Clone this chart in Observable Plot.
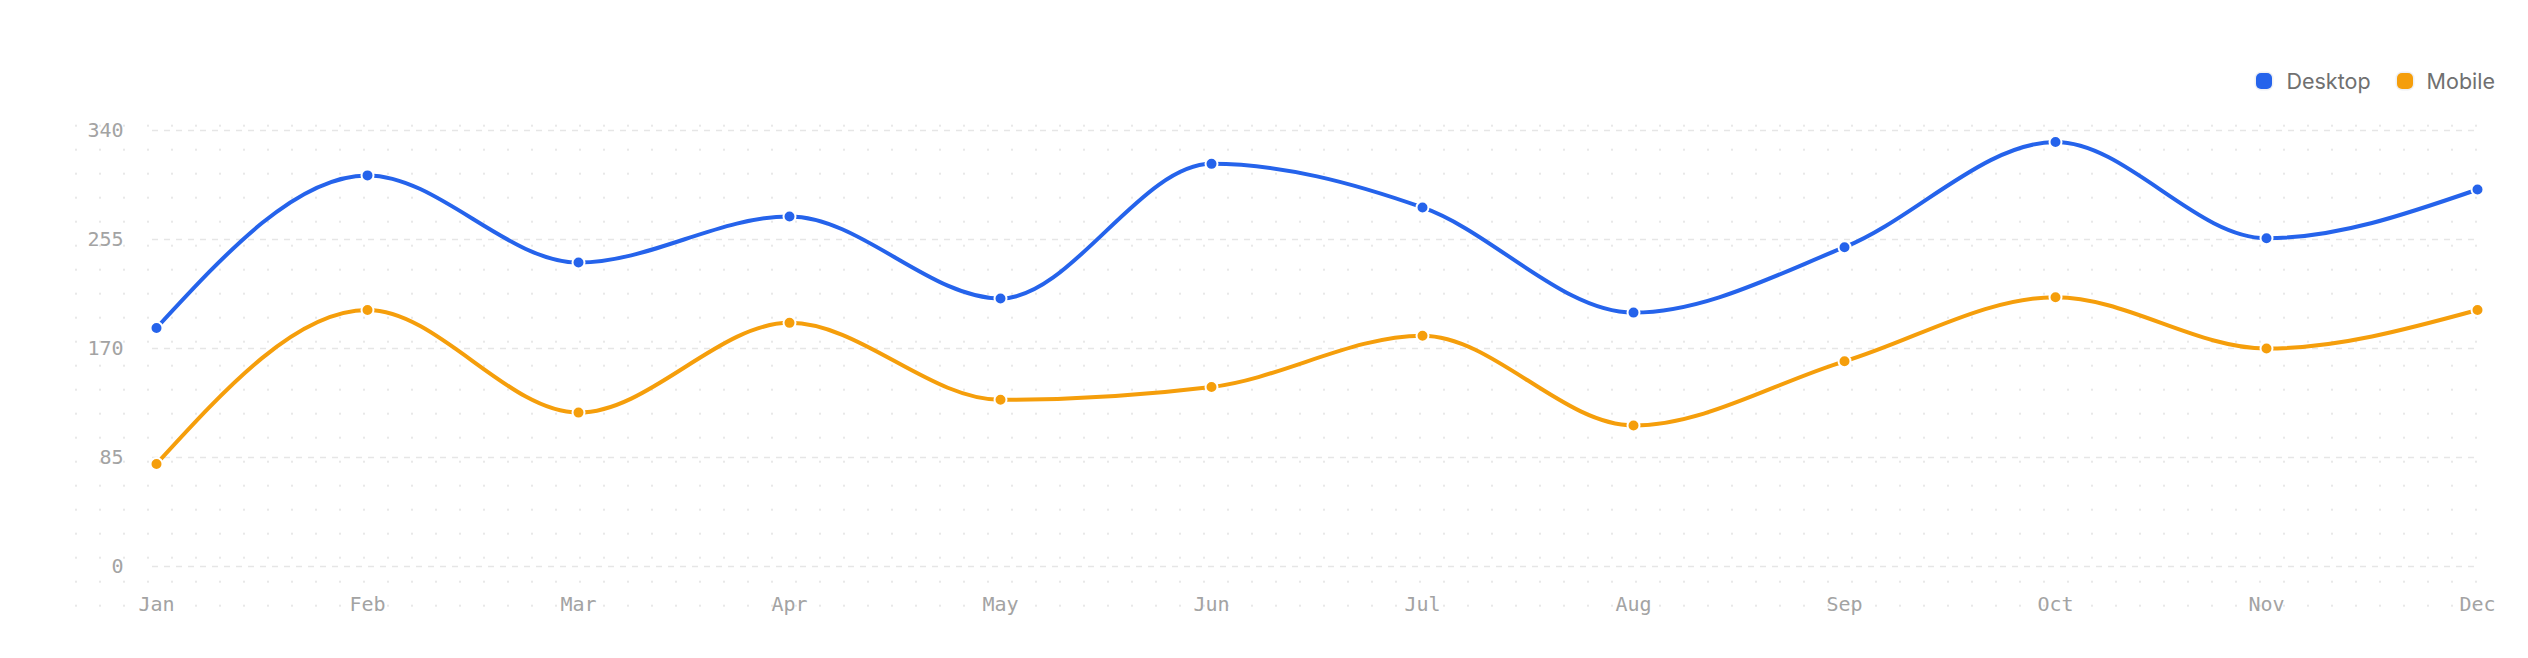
<!DOCTYPE html>
<html>
<head>
<meta charset="utf-8">
<script src="https://cdn.jsdelivr.net/npm/d3@7"></script>
<script src="https://cdn.jsdelivr.net/npm/@observablehq/plot@0.6"></script>
<style>
  html, body { margin: 0; padding: 0; background: #fff; }
  #wrap { position: relative; width: 2528px; height: 658px; overflow: hidden; }
  #legend { position: absolute; top: 68px; right: 33px; display: flex; gap: 26px; align-items: center;
            font-family: Inter, "Noto Sans", sans-serif; font-size: 21.5px; color: #707070; }
  #legend .item { display: flex; align-items: center; gap: 14px; }
  #legend .sw { width: 16px; height: 16px; border-radius: 5px; box-shadow: 0 0 0 1.5px #eef0f4; }
  #chart { position: absolute; left: 0; top: 0; }
</style>
</head>
<body>
<div id="wrap">
  <div id="chart"></div>
  <div id="legend"></div>
</div>
<script>
const months = ["Jan","Feb","Mar","Apr","May","Jun","Jul","Aug","Sep","Oct","Nov","Dec"];
const desktop = [186, 305, 237, 273, 209, 314, 280, 198, 249, 331, 256, 294];
const mobile  = [80, 200, 120, 190, 130, 140, 180, 110, 160, 210, 170, 200];
const seriesNames = ["Desktop", "Mobile"];
const seriesColors = ["#2563eb", "#f59e0b"];
const yTicks = [0, 85, 170, 255, 340];

const data = [];
months.forEach((m, i) => data.push({month: m, value: desktop[i], series: "Desktop"}));
months.forEach((m, i) => data.push({month: m, value: mobile[i], series: "Mobile"}));

const chart = Plot.plot({
  width: 2528,
  height: 658,
  marginLeft: 152,
  marginRight: 48,
  marginTop: 130,
  marginBottom: 92,
  style: {background: "transparent", fontFamily: "'DejaVu Sans Mono', monospace", fontSize: "20px"},
  x: {type: "point", domain: months, padding: 0, label: null},
  y: {domain: [0, 340], label: null},
  color: {domain: seriesNames, range: seriesColors},
  marks: [
    Plot.gridY(yTicks, {stroke: "#e6e6e6", strokeOpacity: 1, strokeWidth: 1.5, strokeDasharray: "6 6"}),
    Plot.axisY({ticks: yTicks, tickSize: 0, tickPadding: 29, color: "#a3a3a3", label: null}),
    Plot.axisX({tickSize: 0, tickPadding: 30, color: "#a3a3a3", label: null}),
    Plot.line(data, {x: "month", y: "value", stroke: "series", z: "series", curve: "monotone-x", strokeWidth: 4}),
    Plot.dot(data, {x: "month", y: "value", fill: "series", r: 6, stroke: "white", strokeWidth: 2})
  ]
});

// dotted background pattern
const svg = d3.select(chart);
const defs = svg.insert("defs", ":first-child");
const pat = defs.append("pattern").attr("id", "dotgrid").attr("patternUnits", "userSpaceOnUse")
  .attr("x", 64).attr("y", 113.7).attr("width", 24).attr("height", 24);
pat.append("circle").attr("cx", 12).attr("cy", 12).attr("r", 1.1).attr("fill", "#e3e3e3");
svg.insert("rect", "defs + *").attr("x", 64).attr("y", 113.7).attr("width", 2424).attr("height", 504)
  .attr("fill", "url(#dotgrid)");

document.getElementById("chart").appendChild(chart);

const legend = document.getElementById("legend");
seriesNames.forEach((name, i) => {
  const item = document.createElement("div");
  item.className = "item";
  const sw = document.createElement("span");
  sw.className = "sw";
  sw.style.background = seriesColors[i];
  const label = document.createElement("span");
  label.textContent = name;
  item.appendChild(sw);
  item.appendChild(label);
  legend.appendChild(item);
});
</script>
</body>
</html>
